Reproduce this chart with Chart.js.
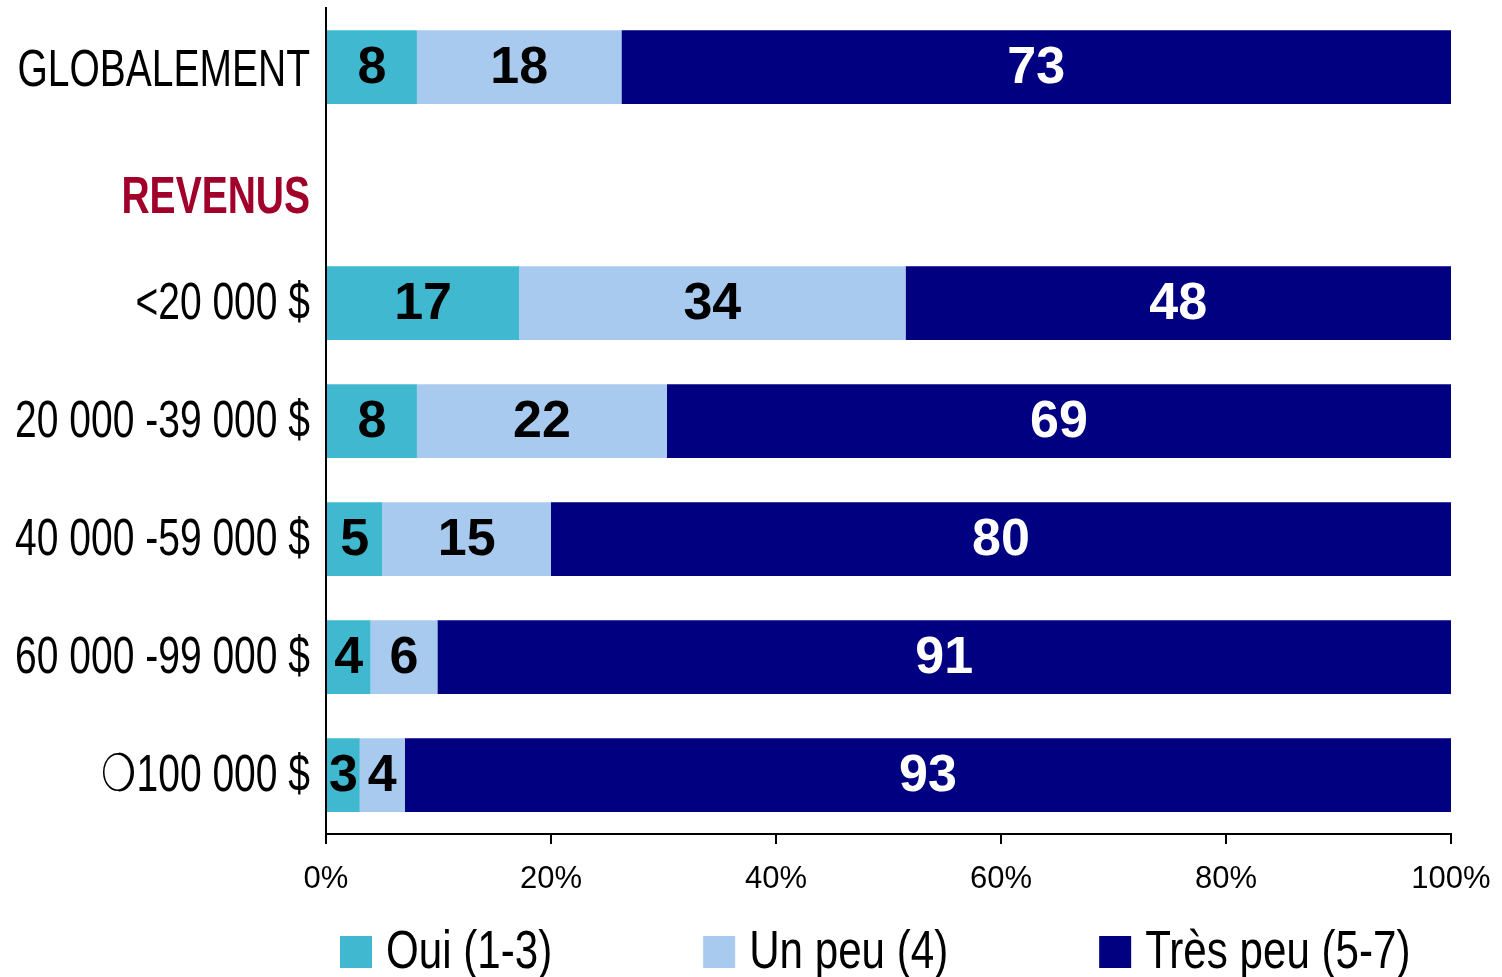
<!DOCTYPE html>
<html>
<head>
<meta charset="utf-8">
<script src="https://cdn.jsdelivr.net/npm/chart.js@4.4.0/dist/chart.umd.min.js"></script>
<style>
  html, body { margin: 0; padding: 0; background: #fff; }
  #wrap { width: 1502px; height: 977px; }
</style>
</head>
<body>
<div id="wrap"><canvas id="chart"></canvas></div>
<script>
const categories = ["GLOBALEMENT", "REVENUS", "<20 000 $", "20 000 -39 000 $", "40 000 -59 000 $", "60 000 -99 000 $", "❍100 000 $"];
const oui = [8, null, 17, 8, 5, 4, 3];
const unPeu = [18, null, 34, 22, 15, 6, 4];
const tresPeu = [73, null, 48, 69, 80, 91, 93];
const seriesNames = ["Oui (1-3)", "Un peu (4)", "Très peu (5-7)"];
const seriesColors = ["#40B8CF", "#A8CAEF", "#000080"];
const labelColors = ["#000", "#000", "#fff"];
const headerIndex = 1; // "REVENUS" row is a heading only

const ARIAL = '"Liberation Sans", Arial, sans-serif';

// each row is drawn as share of its own total (100% stacked)
const rowTotals = categories.map((_, i) => (oui[i] || 0) + (unPeu[i] || 0) + (tresPeu[i] || 0));
const toPct = (arr) => arr.map((v, i) => (v == null ? null : (v / rowTotals[i]) * 100));

const rawSeries = [oui, unPeu, tresPeu];

// no narrow font installed, so squeeze Liberation Sans horizontally
function narrowText(ctx, text, x, y, size, weight, sx, align) {
  ctx.save();
  ctx.translate(x, y);
  ctx.scale(sx, 1);
  ctx.font = weight + " " + size + "px " + ARIAL;
  ctx.textAlign = align;
  ctx.textBaseline = "middle";
  ctx.fillText(text, 0, 0);
  const w = ctx.measureText(text).width * sx;
  ctx.restore();
  return w;
}

const valueLabels = {
  id: "valueLabels",
  afterDatasetsDraw(chart) {
    const ctx = chart.ctx;
    ctx.save();
    ctx.font = "bold 52px " + ARIAL;
    ctx.textAlign = "center";
    ctx.textBaseline = "middle";
    chart.data.datasets.forEach((ds, di) => {
      const meta = chart.getDatasetMeta(di);
      meta.data.forEach((bar, i) => {
        const v = rawSeries[di][i];
        if (v == null) return;
        const { x, base, y } = bar.getProps(["x", "base", "y"], true);
        ctx.fillStyle = labelColors[di];
        ctx.fillText(String(v), (x + base) / 2, y + 2);
      });
    });
    ctx.restore();
  }
};

const categoryLabels = {
  id: "categoryLabels",
  afterDraw(chart) {
    const ctx = chart.ctx;
    const yScale = chart.scales.y;
    const x = chart.chartArea.left - 16;
    categories.forEach((name, i) => {
      const isHead = i === headerIndex;
      const y = yScale.getPixelForValue(i) + (isHead ? 14 : 2) + (i === 0 ? 3 : 0);
      ctx.fillStyle = isHead ? "#A1002B" : "#000";
      narrowText(ctx, name, x, y, 52, isHead ? "bold" : "normal", 0.75, "right");
    });
  }
};

const bottomLegend = {
  id: "bottomLegend",
  afterDraw(chart) {
    const ctx = chart.ctx;
    const area = chart.chartArea;
    const box = 32, gap = 14, spacing = 151;
    let x = area.left + 14;
    const yc = area.bottom + 118;
    seriesNames.forEach((name, i) => {
      ctx.fillStyle = seriesColors[i];
      ctx.fillRect(x, yc - box / 2, box, box);
      ctx.fillStyle = "#000";
      const w = narrowText(ctx, name, x + box + gap, yc + 1, 54, "normal", 0.78, "left");
      x += box + gap + w + spacing;
    });
  }
};

new Chart(document.getElementById("chart"), {
  type: "bar",
  data: {
    labels: categories,
    datasets: rawSeries.map((arr, i) => ({
      label: seriesNames[i],
      data: toPct(arr),
      backgroundColor: seriesColors[i],
      borderWidth: 0,
      barPercentage: 0.625,
      categoryPercentage: 1
    }))
  },
  options: {
    indexAxis: "y",
    responsive: true,
    maintainAspectRatio: false,
    animation: false,
    layout: { padding: { top: 8, right: 51, bottom: 78, left: 0 } },
    plugins: {
      legend: { display: false },
      tooltip: { enabled: false }
    },
    scales: {
      x: {
        stacked: true,
        min: 0,
        max: 100,
        afterFit: (axis) => { axis.height = 65; axis.paddingLeft = 0; axis.paddingRight = 0; },
        ticks: {
          stepSize: 20,
          padding: 17,
          color: "#000",
          font: { family: ARIAL, size: 31 },
          callback: (v) => v + "%"
        },
        grid: { drawOnChartArea: false, drawTicks: true, tickLength: 10, color: "#000", lineWidth: 2 },
        border: { display: true, color: "#000", width: 2 }
      },
      y: {
        stacked: true,
        afterFit: (axis) => { axis.width = 326; axis.paddingTop = 0; axis.paddingBottom = 0; },
        ticks: { display: false },
        grid: { display: false, drawTicks: false },
        border: { display: true, color: "#000", width: 2 }
      }
    }
  },
  plugins: [valueLabels, categoryLabels, bottomLegend]
});
</script>
</body>
</html>
